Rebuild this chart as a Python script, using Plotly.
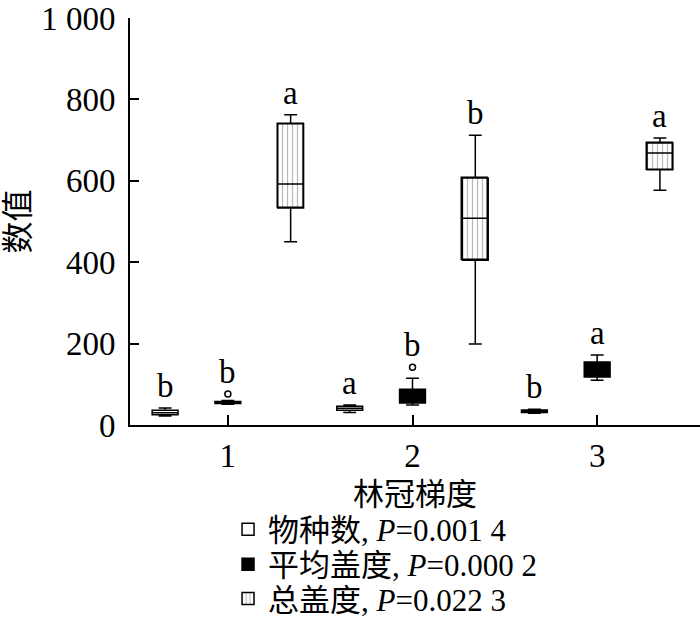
import plotly.graph_objects as go

# ---------------- data ----------------
groups = [1, 2, 3]
group_labels = ["1", "2", "3"]
series_names = ["物种数", "平均盖度", "总盖度"]
p_values = ["0.001 4", "0.000 2", "0.022 3"]

species_lo = [22, 31, 29]
species_q1 = [25, 36, 31]
species_med = [30, 41, 34]
species_q3 = [36, 46, 37]
species_hi = [42, 49, 39]
species_letters = ["b", "a", "b"]

cover_lo = [51, 49, 110]
cover_q1 = [53, 54, 118]
cover_med = [55, 70, 135]
cover_q3 = [58, 88, 155]
cover_hi = [60, 115, 172]
cover_outliers = [76, 142, None]
cover_letters = ["b", "b", "a"]

total_lo = [450, 199, 577]
total_q1 = [533, 405, 627]
total_med = [592, 508, 668]
total_q3 = [740, 607, 693]
total_hi = [762, 712, 705]
total_letters = ["a", "b", "a"]

y_ticks = [0, 200, 400, 600, 800, 1000]
y_ticktext = ["0", "200", "400", "600", "800", "1 000"]

# ---------------- layout helpers ----------------
OFFSETS = [-0.34, 0.0, 0.34]
BOX_W = 0.14
SERIF = "Liberation Serif, Times New Roman, Noto Sans CJK SC, serif"
FS = 32
LEG_FS = 31


def pos(k):
    return [g + OFFSETS[k] for g in groups]


def label(k):
    return f"{series_names[k]}, <i>P</i>=" + p_values[k]


fig = go.Figure()

# patterned body of the total-cover boxes (drawn first so box outlines sit above)
fig.add_trace(go.Bar(
    x=pos(2), base=total_q1, y=[b - a for a, b in zip(total_q1, total_q3)],
    width=BOX_W, name=label(2), legend="legend3",
    marker=dict(color="white",
                pattern=dict(shape="|", fgcolor="#777777", bgcolor="white",
                             size=5, solidity=0.25),
                line=dict(color="black", width=1.5)),
    hoverinfo="skip",
))

fig.add_trace(go.Box(
    x=pos(0), q1=species_q1, median=species_med, q3=species_q3,
    lowerfence=species_lo, upperfence=species_hi, width=BOX_W,
    name=label(0), legend="legend", boxpoints=False,
    fillcolor="white", line=dict(color="black", width=1.5), whiskerwidth=0.5,
))
fig.add_trace(go.Box(
    x=pos(1), q1=cover_q1, median=cover_med, q3=cover_q3,
    lowerfence=cover_lo, upperfence=cover_hi, width=BOX_W,
    name=label(1), legend="legend2", boxpoints=False,
    fillcolor="black", line=dict(color="black", width=1.5), whiskerwidth=0.5,
))
fig.add_trace(go.Box(
    x=pos(2), q1=total_q1, median=total_med, q3=total_q3,
    lowerfence=total_lo, upperfence=total_hi, width=BOX_W,
    name=label(2), showlegend=False, boxpoints=False,
    fillcolor="rgba(0,0,0,0)", line=dict(color="black", width=1.5), whiskerwidth=0.5,
))

# outliers
ox = [x for x, v in zip(pos(1), cover_outliers) if v is not None]
oy = [v for v in cover_outliers if v is not None]
fig.add_trace(go.Scatter(
    x=ox, y=oy, mode="markers", showlegend=False,
    marker=dict(symbol="circle-open", size=6, color="black", line=dict(width=1.5)),
))

# significance letters
tops = [species_hi,
        [max(h, o) if o is not None else h for h, o in zip(cover_hi, cover_outliers)],
        total_hi]
letters = [species_letters, cover_letters, total_letters]
for k in range(3):
    for x, t, l in zip(pos(k), tops[k], letters[k]):
        fig.add_annotation(x=x, y=t, text=l, showarrow=False, yanchor="bottom",
                           yshift=2, font=dict(family=SERIF, size=33, color="black"))

legend_common = dict(x=0.172, xanchor="left", yanchor="middle",
                     font=dict(family=SERIF, size=LEG_FS, color="black"),
                     bgcolor="rgba(0,0,0,0)", itemwidth=30)

fig.update_layout(
    width=700, height=618,
    margin=dict(l=130, r=0, t=18, b=193, autoexpand=False),
    plot_bgcolor="white", paper_bgcolor="white",
    font=dict(family=SERIF, size=FS, color="black"),
    bargap=0,
    legend=dict(y=-0.257, **legend_common),
    legend2=dict(y=-0.343, **legend_common),
    legend3=dict(y=-0.427, **legend_common),
)
fig.update_xaxes(
    range=[0.47, 3.557], tickvals=groups, ticktext=group_labels, automargin=False,
    showline=True, linecolor="black", linewidth=2, ticks="inside", ticklen=10,
    tickwidth=2, tickcolor="black", showgrid=False, zeroline=False,
    tickfont=dict(family=SERIF, size=33),
    title=dict(text="林冠梯度", font=dict(family=SERIF, size=31), standoff=11),
)
fig.update_yaxes(
    range=[0, 1000], tickvals=y_ticks, ticktext=y_ticktext, automargin=False,
    showline=True, linecolor="black", linewidth=2, ticks="inside", ticklen=9,
    tickwidth=2, tickcolor="black", showgrid=False, zeroline=False,
    tickfont=dict(family=SERIF, size=33), ticklabelstandoff=6,
    title=dict(text="数值", font=dict(family=SERIF, size=32), standoff=17),
)

fig.write_html("out.html", config={"displayModeBar": False},
               post_script="document.body.style.margin='0';")
